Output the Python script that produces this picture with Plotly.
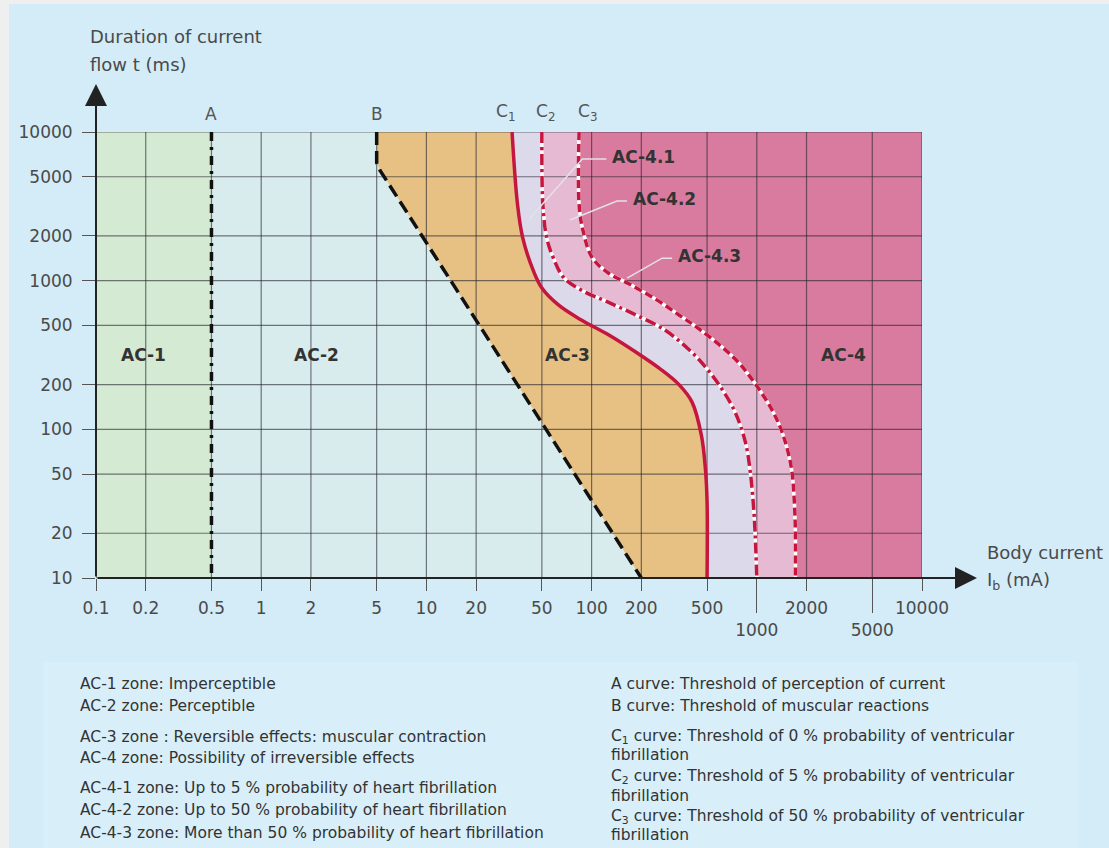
import math
import plotly.graph_objects as go

# ---------------- data ----------------
x_tick_values_upper = [0.1, 0.2, 0.5, 1, 2, 5, 10, 20, 50, 100, 200, 500, 2000, 10000]
x_tick_labels_upper = ["0.1", "0.2", "0.5", "1", "2", "5", "10", "20", "50", "100", "200", "500", "2000", "10000"]
x_tick_values_lower = [1000, 5000]
x_tick_labels_lower = ["1000", "5000"]
x_grid_values = [0.1, 0.2, 0.5, 1, 2, 5, 10, 20, 50, 100, 200, 500, 1000, 2000, 5000, 10000]
y_tick_values = [10, 20, 50, 100, 200, 500, 1000, 2000, 5000, 10000]
y_tick_labels = ["10", "20", "50", "100", "200", "500", "1000", "2000", "5000", "10000"]

curve_A_current = [0.5, 0.5]
curve_A_time = [10000, 10]
curve_B_current = [5, 5, 5.25, 200]
curve_B_time = [10000, 6200, 5500, 10]
curve_C1_current = [33, 35.6, 38.3, 44.4, 50, 62.7, 85, 128, 185, 260, 338, 405, 462, 488, 500, 500]
curve_C1_time = [10000, 3260, 1940, 1167, 893, 690, 551, 429, 331, 255, 200, 153, 91, 55, 32.6, 10]
curve_C2_current = [50, 50.7, 53.5, 58.6, 67.9, 88.8, 123, 185, 274, 385, 500, 612, 738, 853, 916, 958, 978, 1000]
curve_C2_time = [10000, 3260, 1940, 1425, 1047, 851, 725, 588, 470, 347, 255, 188, 131, 82, 50, 29, 19.6, 10]
curve_C3_current = [84, 84, 88.8, 101, 128, 168, 240, 338, 451, 738, 986, 1254, 1445, 1619, 1687, 1713, 1713]
curve_C3_time = [10000, 3260, 2160, 1425, 1114, 953, 760, 588, 470, 298, 200, 131, 91, 55, 32.6, 19.5, 10]

zone_labels = ["AC-1", "AC-2", "AC-3", "AC-4"]
zone_label_current = [0.193, 2.15, 71, 3330]
zone_label_time = [316, 316, 316, 316]

sub_zone_labels = ["AC-4.1", "AC-4.2", "AC-4.3"]
sub_zone_point_current = [42, 74, 164]
sub_zone_point_time = [2600, 2560, 1040]

legend_left = [
    "AC-1 zone: Imperceptible",
    "AC-2 zone: Perceptible",
    "AC-3 zone : Reversible effects: muscular contraction",
    "AC-4 zone: Possibility of irreversible effects",
    "AC-4-1 zone: Up to 5 % probability of heart fibrillation",
    "AC-4-2 zone: Up to 50 % probability of heart fibrillation",
    "AC-4-3 zone: More than 50 % probability of heart fibrillation",
]
legend_right = [
    "A curve: Threshold of perception of current",
    "B curve: Threshold of muscular reactions",
    "C<sub>1</sub> curve: Threshold of 0 % probability of ventricular",
    "fibrillation",
    "C<sub>2</sub> curve: Threshold of 5 % probability of ventricular",
    "fibrillation",
    "C<sub>3</sub> curve: Threshold of 50 % probability of ventricular",
    "fibrillation",
]

# ---------------- style ----------------
W, H = 1109, 848
L, R, T, B = 96, 922, 132, 578
PW, PH = R - L, B - T
BG = "#d3ecf8"
FONT = "DejaVu Sans"
TXT = "#4a4a4a"
CRIMSON = "#c4163f"
COL_AC1 = "#d4ead2"
COL_AC2 = "#d8eced"
COL_AC3 = "#e6c183"
COL_AC41 = "#dcd9ea"
COL_AC42 = "#e6bad3"
COL_AC4 = "#d97b9e"

X_MIN, X_MAX = x_grid_values[0], x_grid_values[-1]
Y_MIN, Y_MAX = y_tick_values[0], y_tick_values[-1]
LX0, LX1 = math.log10(X_MIN), math.log10(X_MAX)
LY0, LY1 = math.log10(Y_MIN), math.log10(Y_MAX)


def pxx(px):
    return (px - L) / PW


def pxy(py):
    return (B - py) / PH


def data_to_paper(x, y):
    return (math.log10(x) - LX0) / (LX1 - LX0), (math.log10(y) - LY0) / (LY1 - LY0)


fig = go.Figure()


def left_region(cx, cy, color):
    xs = [X_MIN] + list(cx) + [X_MIN]
    ys = [Y_MAX] + list(cy) + [Y_MIN]
    fig.add_trace(go.Scatter(x=xs, y=ys, fill="toself", fillcolor=color, mode="none",
                             hoverinfo="skip", showlegend=False))


# zone fills (layered right to left; plot background is AC-4 pink)
left_region(curve_C3_current, curve_C3_time, COL_AC42)
left_region(curve_C2_current, curve_C2_time, COL_AC41)
left_region(curve_C1_current, curve_C1_time, COL_AC3)
left_region(curve_B_current, curve_B_time, COL_AC2)
left_region(curve_A_current, curve_A_time, COL_AC1)

# grid drawn above fills
gx, gy = [], []
for v in x_grid_values:
    gx += [v, v, None]
    gy += [Y_MIN, Y_MAX, None]
for v in y_tick_values:
    gx += [X_MIN, X_MAX, None]
    gy += [v, v, None]
fig.add_trace(go.Scatter(x=gx, y=gy, mode="lines", line=dict(color="rgba(35,35,45,0.6)", width=1.2),
                         hoverinfo="skip", showlegend=False))

# curves
fig.add_trace(go.Scatter(x=curve_A_current, y=curve_A_time, mode="lines",
                         line=dict(color="#111", width=3.5, dash="9px,6px,3px,6px"),
                         hoverinfo="skip", showlegend=False))
fig.add_trace(go.Scatter(x=curve_B_current, y=curve_B_time, mode="lines",
                         line=dict(color="#111", width=3.5, dash="13px,6px"),
                         hoverinfo="skip", showlegend=False))
for cx, cy in [(curve_C2_current, curve_C2_time), (curve_C3_current, curve_C3_time)]:
    fig.add_trace(go.Scatter(x=cx, y=cy, mode="lines", line=dict(color="white", width=3.5, shape="spline"),
                             hoverinfo="skip", showlegend=False))
fig.add_trace(go.Scatter(x=curve_C1_current, y=curve_C1_time, mode="lines",
                         line=dict(color=CRIMSON, width=3.5, shape="spline"),
                         hoverinfo="skip", showlegend=False))
fig.add_trace(go.Scatter(x=curve_C2_current, y=curve_C2_time, mode="lines",
                         line=dict(color=CRIMSON, width=3.5, shape="spline", dash="11px,4px,3px,4px"),
                         hoverinfo="skip", showlegend=False))
fig.add_trace(go.Scatter(x=curve_C3_current, y=curve_C3_time, mode="lines",
                         line=dict(color=CRIMSON, width=3.5, shape="spline", dash="8px,4px"),
                         hoverinfo="skip", showlegend=False))

# invisible trace so the second (lower-label) x axis is drawn
fig.add_trace(go.Scatter(x=x_tick_values_lower, y=[Y_MIN] * len(x_tick_values_lower), xaxis="x2",
                         mode="markers", marker=dict(opacity=0), hoverinfo="skip", showlegend=False))

tickfont = dict(family=FONT, size=17, color=TXT)
fig.update_layout(
    width=W, height=H, autosize=False,
    margin=dict(l=L, r=W - R, t=T, b=H - B, pad=0),
    paper_bgcolor=BG, plot_bgcolor=COL_AC4,
    showlegend=False,
    xaxis=dict(type="log", range=[LX0, LX1], showgrid=False, zeroline=False,
               showline=False, ticks="outside", ticklen=12, tickwidth=1, tickcolor="#555",
               tickvals=x_tick_values_upper, ticktext=x_tick_labels_upper, tickfont=tickfont,
               ticklabelstandoff=3, fixedrange=True),
    xaxis2=dict(type="log", range=[LX0, LX1], overlaying="x", anchor="y",
                side="bottom", showgrid=False, zeroline=False, showline=False, ticks="outside",
                ticklen=34, tickwidth=1, tickcolor="#555", tickvals=x_tick_values_lower,
                ticktext=x_tick_labels_lower, tickfont=tickfont, ticklabelstandoff=3, fixedrange=True),
    yaxis=dict(type="log", range=[LY0, LY1], showgrid=False, zeroline=False,
               showline=False, ticks="outside", ticklen=13, tickwidth=1, tickcolor="#555",
               tickvals=y_tick_values, ticktext=y_tick_labels, tickfont=tickfont,
               ticklabelstandoff=6, fixedrange=True),
)

shapes = [
    # left grey strip and top strip of the picture frame
    dict(type="rect", xref="paper", yref="paper", x0=pxx(0), x1=pxx(9), y0=pxy(0), y1=pxy(H),
         fillcolor="#efefef", line=dict(width=0), layer="below"),
    dict(type="rect", xref="paper", yref="paper", x0=pxx(0), x1=pxx(W), y0=pxy(0), y1=pxy(4),
         fillcolor="#efefef", line=dict(width=0), layer="below"),
    # legend panel
    dict(type="rect", xref="paper", yref="paper", x0=pxx(43), x1=pxx(1078), y0=pxy(662), y1=pxy(H),
         fillcolor="#d8eff9", line=dict(width=0), layer="below"),
]

ann = []
# sub-zone labels with elbow leader lines (offsets in pixels from the pointed-at location)
elbows = [(53, -60), (47, -19), (35, -20)]
ends = [(77, -60), (57, -19), (45, -20)]
for lab, cx, cy, (ex, ey), (tx, ty) in zip(sub_zone_labels, sub_zone_point_current, sub_zone_point_time,
                                            elbows, ends):
    hx, hy = data_to_paper(cx, cy)
    p = [(hx, hy), (hx + ex / PW, hy - ey / PH), (hx + tx / PW, hy - ty / PH)]
    path = "M{},{} L{},{} L{},{}".format(p[0][0], p[0][1], p[1][0], p[1][1], p[2][0], p[2][1])
    shapes.append(dict(type="path", xref="paper", yref="paper", path=path,
                       line=dict(color="#e2e2ea", width=1.5), layer="above"))
    ann.append(dict(xref="paper", yref="paper", x=p[2][0] + 4 / PW, y=p[2][1] + 2 / PH,
                    text="<b>" + lab + "</b>", xanchor="left", yanchor="middle", showarrow=False,
                    font=dict(family=FONT, size=17, color="#333")))
fig.update_layout(shapes=shapes)

# axis arrows
ann.append(dict(xref="paper", yref="paper", x=pxx(977), y=0, ax=-(977 - L), ay=0, axref="pixel", ayref="pixel",
                text="", showarrow=True, arrowhead=2, arrowsize=2.2, arrowwidth=2, arrowcolor="#222"))
ann.append(dict(xref="paper", yref="paper", x=0, y=pxy(84), ax=0, ay=(B - 84), axref="pixel", ayref="pixel",
                text="", showarrow=True, arrowhead=2, arrowsize=2.2, arrowwidth=2, arrowcolor="#222"))

# axis titles
title_font = dict(family=FONT, size=18, color=TXT)
ann.append(dict(xref="paper", yref="paper", x=pxx(88), y=pxy(37), text="Duration of current",
                xanchor="left", yanchor="middle", showarrow=False, font=title_font))
ann.append(dict(xref="paper", yref="paper", x=pxx(88), y=pxy(65), text="flow t (ms)",
                xanchor="left", yanchor="middle", showarrow=False, font=title_font))
ann.append(dict(xref="paper", yref="paper", x=pxx(985), y=pxy(552), text="Body current",
                xanchor="left", yanchor="middle", showarrow=False, font=title_font))
ann.append(dict(xref="paper", yref="paper", x=pxx(985), y=pxy(581), text="I<sub>b</sub> (mA)",
                xanchor="left", yanchor="middle", showarrow=False, font=title_font))

# curve letters
letter_font = dict(family=FONT, size=17, color="#555")
ann.append(dict(xref="x", yref="paper", x=math.log10(curve_A_current[0]), y=pxy(114), text="A",
                xanchor="center", yanchor="middle", showarrow=False, font=letter_font))
ann.append(dict(xref="x", yref="paper", x=math.log10(curve_B_current[0]), y=pxy(114), text="B",
                xanchor="center", yanchor="middle", showarrow=False, font=letter_font))
for txt, cx, sh in [("C<sub>1</sub>", curve_C1_current[0], -7), ("C<sub>2</sub>", curve_C2_current[0], 4),
                    ("C<sub>3</sub>", curve_C3_current[0], 8)]:
    ann.append(dict(xref="x", yref="paper", x=math.log10(cx), y=pxy(112), text=txt, xshift=sh,
                    xanchor="center", yanchor="middle", showarrow=False, font=letter_font))

# zone labels
zone_font = dict(family=FONT, size=17, color="#333")
for lab, cx, cy in zip(zone_labels, zone_label_current, zone_label_time):
    ann.append(dict(xref="x", yref="y", x=math.log10(cx), y=math.log10(cy), text="<b>" + lab + "</b>",
                    showarrow=False, font=zone_font))

# legend texts
leg_font = dict(family=FONT, size=15.5, color="#333")
for txt, py in zip(legend_left, [684, 706, 737, 758, 788, 810, 833]):
    ann.append(dict(xref="paper", yref="paper", x=pxx(78), y=pxy(py), text=txt, xanchor="left",
                    yanchor="middle", showarrow=False, font=leg_font))
for txt, py in zip(legend_right, [684, 706, 737, 755, 777, 796, 817, 835]):
    ann.append(dict(xref="paper", yref="paper", x=pxx(609), y=pxy(py), text=txt, xanchor="left",
                    yanchor="middle", showarrow=False, font=leg_font))

fig.update_layout(annotations=ann)

fig.write_html("out.html", include_plotlyjs=True, config={"displayModeBar": False},
               post_script="document.body.style.margin='0';document.body.style.overflow='hidden';")
